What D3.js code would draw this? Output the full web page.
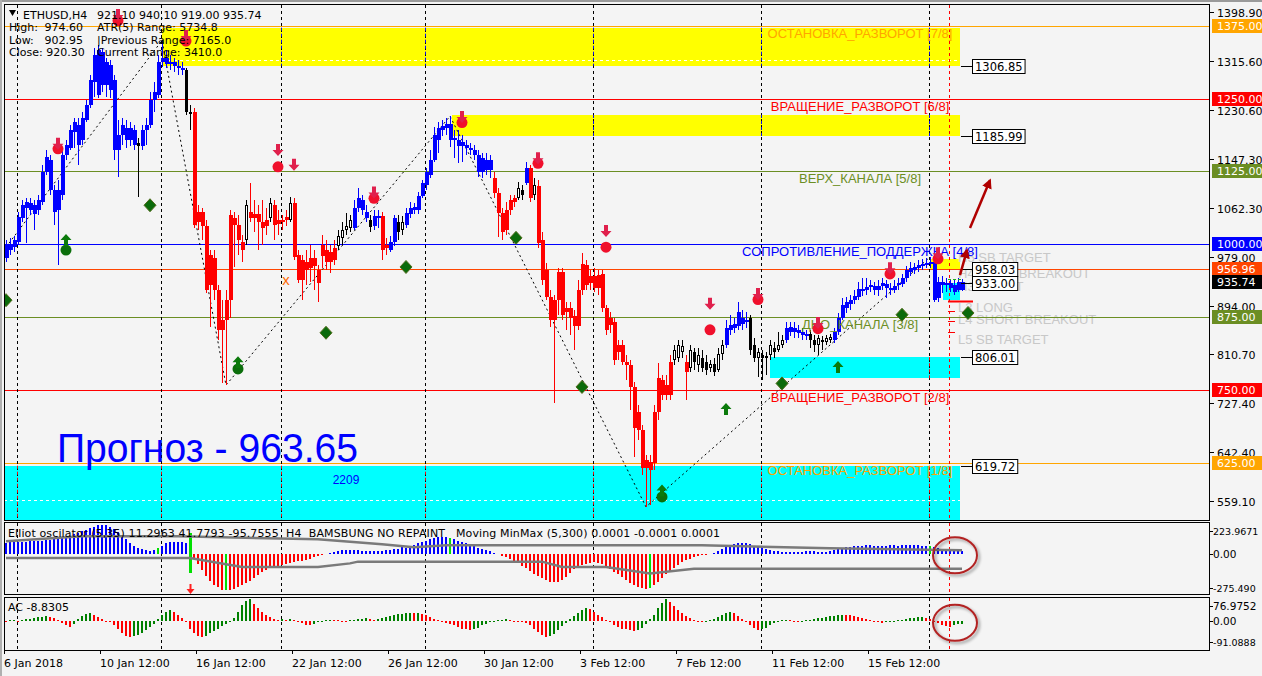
<!DOCTYPE html>
<html><head><meta charset="utf-8">
<script src="https://cdn.jsdelivr.net/npm/d3@7"></script>
<style>
body{margin:0;background:#f4f4f4;overflow:hidden}
svg{display:block}
</style></head>
<body><svg id="c" width="1262" height="676"></svg>
<script>
// ================= DATA =================
const symbol = "ETHUSD,H4";
const lastBarText = "921.10 940.10 919.00 935.74";
const infoLeft = [["High:", "974.60"], ["Low:", "902.95"], ["Close: 920.30", ""]];
const infoRight = ["ATR(5) Range: 5734.8", "|Previous Range: 7165.0", "Current Range: 3410.0"];

// OHLC per H4 bar (price units)
const bars = [
[976,1007,970,999],[990,1011,982,1000],[995,1014,987,1007],[1004,1055,999,1047],[1045,1076,1038,1067],
[1062,1079,1002,1073],[1059,1079,1050,1071],[1052,1076,1025,1067],[1059,1085,1050,1076],[1073,1136,1067,1124],
[1124,1162,1119,1150],[1145,1153,1085,1093],[1093,1102,1033,1055],[1059,1110,964,1093],[1085,1162,1076,1153],
[1153,1179,1145,1170],[1165,1205,1162,1196],[1193,1217,1165,1210],[1205,1217,1136,1170],[1179,1227,1170,1217],
[1213,1248,1210,1239],[1239,1291,1234,1282],[1279,1337,1253,1325],[1256,1342,1251,1334],[1330,1337,1262,1274],
[1274,1320,1253,1313],[1308,1316,1251,1265],[1282,1291,1145,1162],[1162,1213,1116,1188],[1188,1217,1170,1205],
[1200,1213,1165,1179],[1179,1210,1169,1200],[1196,1205,1162,1170],[1174,1183,1081,1169],[1169,1205,1162,1196],
[1196,1217,1170,1205],[1205,1262,1200,1248],[1248,1279,1227,1262],[1256,1325,1251,1313],[1313,1350,1304,1320],
[1320,1334,1303,1310],[1310,1325,1299,1313],[1313,1320,1296,1306],[1306,1316,1291,1303],[1303,1313,1291,1299],
[1299,1303,1222,1227],[1227,1239,1196,1225],[1227,1234,1028,1033],[1038,1067,1025,1055],[1055,1062,1007,1031],
[1031,1042,916,921],[930,990,858,982],[976,990,904,921],[921,930,836,853],[853,904,762,870],
[870,921,758,904],[904,1059,873,1050],[1045,1055,961,1033],[1033,1050,982,1007],[1004,1016,970,990],
[1007,1076,999,1067],[1055,1105,1038,1045],[1045,1076,1021,1052],[1052,1067,990,1038],[1038,1076,999,1028],
[1031,1062,1016,1042],[1045,1079,1038,1071],[1067,1076,1007,1033],[1035,1059,1016,1042],[1042,1050,1025,1038],
[1042,1059,1031,1047],[1042,1081,1038,1071],[1071,1079,973,978],[982,990,933,939],[939,982,904,973],
[970,990,930,956],[959,999,935,976],[976,990,921,963],[956,964,901,933],[980,1016,959,999],
[990,1007,956,970],[970,999,951,987],[973,1007,964,994],[997,1025,990,1014],[1011,1038,999,1025],
[1025,1054,1016,1031],[1028,1050,1021,1042],[1028,1076,1025,1062],[1062,1097,1055,1079],[1076,1085,1050,1059],
[1055,1067,1038,1045],[1042,1050,1021,1030],[1031,1059,1025,1049],[1045,1059,1028,1049],[1049,1055,973,990],
[994,1011,982,999],[990,1014,987,1004],[1004,1050,997,1045],[1038,1050,1007,1021],[1025,1049,1016,1038],
[1033,1062,1028,1054],[1052,1073,1045,1062],[1059,1071,1052,1064],[1059,1090,1052,1083],[1083,1110,1079,1105],
[1102,1131,1093,1124],[1119,1162,1114,1145],[1145,1201,1141,1188],[1179,1210,1157,1200],[1196,1213,1186,1203],
[1200,1217,1188,1207],[1207,1220,1167,1179],[1183,1196,1148,1179],[1179,1196,1140,1169],[1169,1188,1141,1176],
[1170,1179,1153,1165],[1165,1174,1153,1162],[1162,1170,1145,1153],[1153,1162,1116,1124],[1124,1157,1114,1148],
[1145,1157,1119,1128],[1128,1153,1114,1145],[1114,1124,1079,1088],[1088,1097,1013,1054],[1054,1062,1007,1021],
[1025,1073,1016,1059],[1059,1085,1050,1076],[1073,1085,1064,1079],[1079,1107,1076,1097],[1093,1102,1076,1085],
[1105,1141,1102,1131],[1131,1136,1073,1079],[1085,1114,1076,1102],[1100,1110,994,1002],[1007,1021,930,939],
[956,968,904,909],[909,921,858,870],[870,913,727,904],[904,959,879,952],[952,959,870,879],
[884,901,853,891],[891,901,844,873],[877,887,818,860],[860,939,853,921],[921,985,913,966],
[964,973,921,930],[933,956,921,945],[945,959,918,925],[925,956,913,947],[949,956,884,891],
[891,896,844,853],[861,884,848,873],[867,873,793,801],[827,836,801,815],[827,836,793,798],
[798,810,767,793],[793,801,715,755],[755,763,635,684],[712,724,664,681],[681,690,604,616],
[616,638,549,630],[626,638,552,612],[624,724,612,712],[712,796,698,770],[767,775,733,741],
[741,775,733,758],[741,810,733,798],[801,827,793,818],[805,836,798,827],[815,836,805,825],
[798,810,733,781],[788,827,781,818],[815,822,784,798],[793,822,781,810],[805,818,781,788],
[798,810,775,784],[788,801,781,794],[794,805,774,781],[784,822,781,812],[812,836,801,827],
[827,870,822,856],[853,879,844,861],[856,873,848,863],[860,901,853,884],[873,887,853,863],
[867,884,856,870],[873,879,810,818],[827,839,798,805],[805,822,772,815],[810,818,767,805],
[805,815,775,808],[810,836,801,827],[822,832,805,815],[818,849,815,827],[827,844,822,836],
[836,867,830,856],[849,867,842,858],[856,867,839,849],[853,861,839,848],[849,856,836,844],
[844,853,836,846],[846,853,822,836],[836,844,815,827],[827,844,810,839],[836,842,818,832],
[832,844,827,839],[836,846,830,841],[836,856,830,849],[849,882,844,873],[873,908,870,896],
[891,909,882,901],[897,913,887,904],[904,921,897,911],[909,935,904,923],[921,942,911,923],
[921,942,913,927],[927,939,918,930],[928,935,913,921],[921,939,911,928],[928,942,921,933],
[932,939,908,925],[925,933,913,921],[921,939,916,928],[930,942,921,933],[932,949,927,942],
[942,963,935,956],[952,970,945,959],[956,968,949,961],[959,973,952,964],[963,975,956,966],
[964,976,959,968],[966,978,959,970],[970,976,901,904],[908,944,901,935],[935,945,916,930],
[930,942,918,933],[933,940,918,925],[930,939,913,918],[921,942,918,935],[921.1,940.1,919.0,935.74]
];
// trend state of the colouring indicator: b = up (blue), r = down (red), n = neutral
const trendRuns = [["b",33],["n",1],["b",11],["n",2],["r",13],["n",1],["r",5],["n",1],["r",4],["n",1],["r",11],["n",4],["b",4],["n",1],["b",2],["r",2],["b",2],["n",2],["b",22],["r",6],["n",2],["b",1],["r",1],["n",1],["r",34],["n",3],["r",1],["n",9],["b",6],["n",9],["b",6],["n",6],["b",33]];

const timeLabels = ["6 Jan 2018","10 Jan 12:00","16 Jan 12:00","22 Jan 12:00","26 Jan 12:00","30 Jan 12:00","3 Feb 12:00","7 Feb 12:00","11 Feb 12:00","15 Feb 12:00"];
const timeLabelBars = [0,24,48,72,96,120,144,168,192,216];
const weekSeparatorBars = [3,39,69,105,147,189,231];
const currentBar = 236;

const priceTicks = [1398.90,1315.60,1230.60,1147.30,1062.30,979.00,894.00,810.70,727.40,642.40,559.10];

const murreyLevels = [1375,1250,1125,1000,875,750,625];
const murreyNames = ["ОСТАНОВКА_РАЗВОРОТ [7/8]","ВРАЩЕНИЕ_РАЗВОРОТ [6/8]","ВЕРХ_КАНАЛА [5/8]","СОПРОТИВЛЕНИЕ_ПОДДЕРЖКА [4/8]","ДНО_КАНАЛА [3/8]","ВРАЩЕНИЕ_РАЗВОРОТ [2/8]","ОСТАНОВКА_РАЗВОРОТ [1/8]"];
const extraLevel = 956.96;
const lastPrice = 935.74;

// zones: [startBar, endBar, low, high, kind]
const zones = [
  [39, 238.5, 1306.85, 1372, "y"],
  [111.5, 238.5, 1185.99, 1222, "y"],
  [231, 238.5, 958.03, 975, "y"],
  [234.25, 238.5, 905, 933, "c"],
  [191, 238.5, 770, 806.01, "c"],
  [-0.5, 238.5, 500, 619.72, "c"]
];
const zoneLabels = [1306.85, 1185.99, 958.03, 933.00, 806.01, 619.72];
const zoneMidLines = [[39, 1316], [-0.5, 561]];

const pivotNames = ["H5 SB TARGET","H4 LONG BREAKOUT","H3 SHORT","L3 LONG","L4 SHORT BREAKOUT","L5 SB TARGET"];
const pivotNamePrices = [978, 950, 928, 893, 871, 838];
const pivotSegments = [[940,"g"],[903,"R"],[885,"r"],[869,"r"],[850,"r"]];

// zigzag [bar, price]
const zigzag = [[0,995],[39,1350],[55,758],[111,1220],[160,549],[231,978]];

// signals [bar, price]
const sellArrows = [[28,1392],[45,1356],[13,1171],[68,1160],[72,1135],[92,1087],[114,1217],[133,1146],[150,1021],[176,896],[188,913],[203,863],[221,957],[233,983]];
const sellDots = [[28,1384],[45,1349],[13,1164],[68,1133],[92,1079],[114,1209],[133,1139],[150,995],[176,853],[188,905],[203,855],[221,949],[233,975]];
const buyArrows = [[15,1009],[58,799],[164,579],[180,719],[208,791]];
const buyDots = [[15,990],[58,786],[164,566]];
const buyDiamonds = [[0,904],[36,1067],[80,848],[100,961],[127.5,1011],[144,755],[194,761],[224,879],[240.5,882]];
const crossMark = [70,939];
const bigArrows = [[238.5,947,240.25,990],[241,1028,246,1110]];
const forecastText = "Прогноз - 963.65";
const zoneCount = "2209";
const zoneCountPos = [85, 595];

// Elliot oscillator histogram
const elliot = [80,82,84,85,86,88,90,92,93,95,97,100,105,110,
115,120,130,140,150,160,170,180,190,200,205,200,190,175,155,130,105,80,
60,45,35,28,25,30,45,60,75,82,85,85,83,80,
-132,
-30,-70,-110,-150,-185,-210,-230,-245,-250,-245,-238,-228,-215,-200,-185,-165,-145,-125,-108,-95,-85,-78,-72,-66,-60,-55,-50,-45,-38,-30,-22,-15,-8,
5,10,15,22,28,30,32,30,28,25,22,20,20,22,25,28,30,35,40,48,45,55,65,75,85,95,105,112,118,120,118,115,105,95,85,75,65,55,45,36,28,20,12,5,
-10,-20,-32,-45,-60,-78,-95,-115,-135,-150,-165,-180,-190,-195,-190,-175,-155,-130,-105,-90,-75,-65,-58,-55,-58,-70,-90,-105,-120,-140,-160,-180,-200,-215,-228,-235,-240,-235,-215,-190,-165,-140,-115,-92,-72,-55,-42,-30,-20,-12,-6,-2,
5,12,22,35,48,60,70,76,78,76,70,60,50,42,35,28,24,20,18,16,15,15,16,18,20,22,20,18,17,18,22,28,35,42,48,52,56,58,60,62,62,60,58,58,60,62,62,60,62,65,66,64,62,60,58,55,50,45,40,36,32,28,25,22];
const elliotSignals = [38,55,111,161,231];
const elliotSpike = [46, 146, -132];
const minMaxUpper = [[0,90],[19,125],[43,125],[78,104],[94,69],[102,49],[110,62],[174,62],[206,42],[239,28]];
const minMaxLower = [[0,-26],[46,-26],[59,-88],[78,-88],[86,-63],[88,-51],[134,-51],[139,-88],[150,-88],[161,-134],[172,-100],[239,-100]];
const elliotTitle = "Elliot oscilator (5,35) 11.2963 41.7793 -95.7555  H4  BAMSBUNG NO REPAINT   Moving MinMax (5,300) 0.0001 -0.0001 0.0001";
const elliotScale = ["223.9671","0.00","-275.490"];

// Accelerator oscillator
const ac = [-3,2,3,-2,3,5,7,9,11,13,14,12,8,4,-8,-15,-19,-10,5,15,22,26,20,12,6,0,-5,
-15,-28,-40,-50,-53,-50,-45,-38,-30,-20,-10,5,18,30,36,30,20,8,-5,
-25,-40,-50,-52,-48,-40,-32,-25,-18,-10,-3,10,30,50,65,70,55,42,30,20,12,6,
4,6,3,5,2,-3,-8,-12,-14,-10,-5,-2,2,4,3,2,-2,-3,2,3,5,
6,8,6,4,6,9,12,15,18,21,23,25,26,24,26,22,18,12,6,
2,-3,-6,-10,-15,-20,-25,-28,-30,-27,-22,-15,-10,-5,-2,2,3,5,3,1,-2,-4,-8,
-15,-25,-35,-45,-52,-50,-42,-30,-18,-6,5,15,25,35,42,38,30,20,12,4,
-5,-12,-20,-25,-28,-30,-32,-30,-22,-10,5,20,40,58,69,60,48,36,25,15,8,
3,-2,-4,-2,3,6,12,20,26,29,24,15,6,-5,-15,-24,-30,-28,-22,-15,-8,-3,
2,4,3,-2,-3,-2,2,4,6,8,10,12,14,16,18,20,20,19,15,12,10,
5,2,-2,-4,-6,-5,-3,-1,2,4,6,8,10,12,13,10,6,0,-8,-14,-18,-20,-14,-10,-8.83];
const acTitle = "AC -8.8305";
const acScale = ["76.9752","0.00","-91.0888"];

// ================= DRAWING =================
const TF = 'Tahoma,"DejaVu Sans",sans-serif';
const AF = 'Arial,"Liberation Sans",sans-serif';
const svg = d3.select("#c");
const defs = svg.append("defs");
defs.append("clipPath").attr("id","mainClip").append("rect").attr("x",5).attr("y",5).attr("width",1205).attr("height",515);
defs.append("clipPath").attr("id","o1Clip").append("rect").attr("x",5).attr("y",523).attr("width",1205).attr("height",71);
defs.append("clipPath").attr("id","o2Clip").append("rect").attr("x",5).attr("y",598).attr("width",1205).attr("height",52);
const f = defs.append("filter").attr("id","shadow").attr("x","-30%").attr("y","-30%").attr("width","160%").attr("height","160%");
f.append("feGaussianBlur").attr("in","SourceAlpha").attr("stdDeviation",1.5).attr("result","b");
f.append("feOffset").attr("in","b").attr("dx",2).attr("dy",2).attr("result","o");
f.append("feComponentTransfer").attr("in","o").attr("result","s").append("feFuncA").attr("type","linear").attr("slope",0.4);
const fm = f.append("feMerge"); fm.append("feMergeNode").attr("in","s"); fm.append("feMergeNode").attr("in","SourceGraphic");

const trend = trendRuns.flatMap(([t,n]) => Array(n).fill(t));

const x = d3.scaleLinear().domain([0, 239]).range([6, 962]);
const y = d3.scaleLinear().domain([559.1, 1398.9]).range([501, 12]);
const yE = d3.scaleLinear().domain([-275.49, 223.9671]).range([594, 522]);
const yA = d3.scaleLinear().domain([-91.0888, 76.9752]).range([649, 597]);

svg.append("rect").attr("width",1262).attr("height",676).attr("fill","#f4f4f4");
svg.append("rect").attr("x",0).attr("y",0).attr("width",1262).attr("height",2).attr("fill","#9a9a9a");
svg.append("rect").attr("x",0).attr("y",0).attr("width",2).attr("height",676).attr("fill","#b0b0b0");

const main = svg.append("g").attr("clip-path","url(#mainClip)");

// zones
const zoneFill = {y:"#FFFF00", c:"#00FFFF"};
const zoneXor = {y:"#0b0bf4", c:"#f40b0b"};
zones.forEach(([a,b,lo,hi,k]) => {
  main.append("rect").attr("x",x(a)).attr("y",y(hi)).attr("width",x(b)-x(a)).attr("height",y(lo)-y(hi))
    .attr("fill",zoneFill[k]).attr("shape-rendering","crispEdges");
});
zoneMidLines.forEach(([a,p]) => {
  main.append("line").attr("x1",x(a)).attr("x2",x(238.5)).attr("y1",Math.round(y(p))+0.5).attr("y2",Math.round(y(p))+0.5)
    .attr("stroke","#ffffff").attr("stroke-dasharray","3,3");
});

// pivot names (light grey)
pivotNames.forEach((t,i) => {
  main.append("text").attr("x",958).attr("y",y(pivotNamePrices[i])+5).text(t)
    .attr("font-family",AF).attr("font-size",13).attr("fill","#c8c8c8");
});

// level lines
const levelColors = ["#FFA500","#FF0000","#6B8E23","#0000FF","#6B8E23","#FF0000","#FFA500"];
murreyLevels.forEach((lv,i) => {
  const yy = Math.round(y(lv)) + 0.5;
  main.append("line").attr("x1",4).attr("x2",1210).attr("y1",yy).attr("y2",yy).attr("stroke",levelColors[i]);
});
{ const yy = Math.round(y(extraLevel)) + 0.5;
  main.append("line").attr("x1",4).attr("x2",1210).attr("y1",yy).attr("y2",yy).attr("stroke","#FF4500"); }

// separators
function separators(g, y0, y1, withZones) {
  weekSeparatorBars.forEach(b => {
    const sx = Math.round(x(b)) - 0.5;
    g.append("line").attr("x1",sx).attr("x2",sx).attr("y1",y0).attr("y2",y1)
      .attr("stroke","#000").attr("stroke-dasharray","3,3");
    if (withZones) zones.forEach(([a,bb,lo,hi,k]) => {
      if (x(a) <= sx && sx <= x(bb)) {
        g.append("line").attr("x1",sx).attr("x2",sx).attr("y1",y(hi)).attr("y2",y(lo))
          .attr("stroke",zoneXor[k]).attr("stroke-dasharray","3,3");
      }
    });
  });
  const cx = Math.round(x(currentBar)) - 0.5;
  g.append("line").attr("x1",cx).attr("x2",cx).attr("y1",y0).attr("y2",y1)
    .attr("stroke","#ff0000").attr("stroke-dasharray","3,3");
}
separators(main, 5, 520, true);

// zigzag
main.append("path").attr("d", d3.line().x(d=>x(d[0])).y(d=>y(d[1]))(zigzag))
  .attr("fill","none").attr("stroke","#000").attr("stroke-dasharray","2,3");

// candles
const cg = main.append("g").attr("shape-rendering","crispEdges");
bars.forEach((b,i) => {
  const [o,h,l,c] = b, t = trend[i], cx = Math.round(x(i));
  let col = t === "b" ? "#0000FF" : t === "r" ? "#FF0000" : "#000000";
  cg.append("line").attr("x1",cx+0.5).attr("x2",cx+0.5).attr("y1",y(h)).attr("y2",y(l)).attr("stroke",col);
  const top = Math.round(y(Math.max(o,c))), bot = Math.round(y(Math.min(o,c)));
  if (t === "n") {
    cg.append("rect").attr("x",cx-0.5).attr("y",top+0.5).attr("width",2).attr("height",Math.max(1,bot-top-1))
      .attr("fill", c >= o ? "#ffffff" : "#000000").attr("stroke","#000");
  } else {
    cg.append("rect").attr("x",cx-1).attr("y",top).attr("width",4).attr("height",Math.max(2,bot-top)).attr("fill",col);
  }
});

// pivot segments
pivotSegments.forEach(([p,k]) => {
  const yy = Math.round(y(p)) + 0.5;
  if (k === "g") main.append("line").attr("x1",948).attr("x2",962).attr("y1",yy).attr("y2",yy).attr("stroke","#22aa22").attr("stroke-dasharray","3,2");
  else if (k === "R") main.append("line").attr("x1",948).attr("x2",973).attr("y1",yy).attr("y2",yy).attr("stroke","#ff0000").attr("stroke-width",2);
  else main.append("line").attr("x1",948).attr("x2",955).attr("y1",yy).attr("y2",yy).attr("stroke","#ff0000");
});

// level texts
murreyLevels.forEach((lv,i) => {
  main.append("text").attr("x",860).attr("y",y(lv)+12).attr("text-anchor","middle").text(murreyNames[i])
    .attr("font-family",AF).attr("font-size",13).attr("fill",levelColors[i]);
});

// forecast text
main.append("text").attr("x",57).attr("y",462).text(forecastText)
  .attr("font-family",AF).attr("font-size",40).attr("fill","#0000FF")
  .attr("textLength",301).attr("lengthAdjust","spacingAndGlyphs");
main.append("text").attr("x",x(zoneCountPos[0])).attr("y",y(zoneCountPos[1])+4).attr("text-anchor","middle").text(zoneCount)
  .attr("font-family",AF).attr("font-size",12).attr("fill","#0000FF");

// header
const hdr = svg.append("g").attr("font-family",TF).attr("font-size",11).attr("fill","#000");
hdr.append("path").attr("d","M9,10 L16,10 L12.5,16 Z").attr("fill","#000");
hdr.append("text").attr("x",23).attr("y",19).text(symbol);
hdr.append("text").attr("x",97).attr("y",19).text(lastBarText);
infoLeft.forEach(([a,b],i) => {
  hdr.append("text").attr("x",9).attr("y",31+i*12.5).text(a);
  if (b) hdr.append("text").attr("x",83).attr("y",31+i*12.5).attr("text-anchor","end").text(b);
  hdr.append("text").attr("x",97).attr("y",31+i*12.5).text(infoRight[i]);
});

// markers
const mk = main.append("g");
const downArrow = "M-2,-7 L2,-7 L2,-1 L5.5,-1 L0,5 L-5.5,-1 L-2,-1 Z";
const upArrow = "M-2,7 L2,7 L2,1 L5.5,1 L0,-5 L-5.5,1 L-2,1 Z";
sellDots.forEach(([b,p]) => mk.append("circle").attr("cx",x(b)).attr("cy",y(p)).attr("r",5.5).attr("fill","#f0102c"));
sellArrows.forEach(([b,p]) => mk.append("path").attr("d",downArrow).attr("transform",`translate(${x(b)},${y(p)})`).attr("fill","#e0204c"));
buyDots.forEach(([b,p]) => mk.append("circle").attr("cx",x(b)).attr("cy",y(p)).attr("r",5.5).attr("fill","#0b6e0b"));
buyArrows.forEach(([b,p]) => mk.append("path").attr("d",upArrow).attr("transform",`translate(${x(b)},${y(p)})`).attr("fill","#0b7a0b"));
buyDiamonds.forEach(([b,p]) => mk.append("path").attr("d","M0,-6.5 L6,0 L0,6.5 L-6,0 Z").attr("transform",`translate(${x(b)},${y(p)})`)
  .attr("fill","#0b6b0b").attr("stroke","#4f6a1a").attr("stroke-width",1));
mk.append("text").attr("x",x(crossMark[0])).attr("y",y(crossMark[1])+5).attr("text-anchor","middle").text("x")
  .attr("font-family",AF).attr("font-size",15).attr("fill","#ff6a00");

// zone labels
zoneLabels.forEach(v => {
  const yy = Math.round(y(v));
  main.append("line").attr("x1",961).attr("x2",972).attr("y1",yy+0.5).attr("y2",yy+0.5).attr("stroke","#000");
  const r = main.append("rect").attr("x",972.5).attr("y",yy-6.5).attr("height",14).attr("width",45)
    .attr("fill","#fff").attr("stroke","#000");
  const t = main.append("text").attr("x",975).attr("y",yy+4.5).text(v.toFixed(2))
    .attr("font-family",TF).attr("font-size",11.5).attr("fill","#000");
  r.attr("width", t.node().getComputedTextLength() + 5);
});

// big arrows
defs.append("marker").attr("id","ah").attr("viewBox","0 0 10 10").attr("refX",8).attr("refY",5)
  .attr("markerWidth",4).attr("markerHeight",4).attr("orient","auto")
  .append("path").attr("d","M0,0 L10,5 L0,10 Z").attr("fill","#b00000");
bigArrows.forEach(([a,p,b,q]) => {
  main.append("line").attr("x1",x(a)).attr("y1",y(p)).attr("x2",x(b)).attr("y2",y(q))
    .attr("stroke","#b00000").attr("stroke-width",2.5).attr("marker-end","url(#ah)");
});

// panel frames
const fr = svg.append("g").attr("fill","none").attr("stroke","#000").attr("shape-rendering","crispEdges");
fr.append("rect").attr("x",4.5).attr("y",4.5).attr("width",1205).attr("height",515.5);
fr.append("rect").attr("x",4.5).attr("y",522.5).attr("width",1205).attr("height",71.5);
fr.append("rect").attr("x",4.5).attr("y",597.5).attr("width",1205).attr("height",52.5);

// price axis
const ax = svg.append("g").attr("font-family",TF).attr("font-size",11);
priceTicks.forEach(v => {
  const yy = Math.round(y(v)) + 0.5;
  ax.append("line").attr("x1",1210).attr("x2",1214).attr("y1",yy).attr("y2",yy).attr("stroke","#000");
  ax.append("text").attr("x",1217).attr("y",yy+4).text(v.toFixed(2)).attr("fill","#000");
});
const boxVals = [1375,1250,1125,1000,extraLevel,lastPrice,875,750,625];
const boxCols = ["#FFA500","#FF0000","#6B8E23","#0000FF","#FF4500","#000000","#6B8E23","#FF0000","#FFA500"];
boxVals.forEach((v,i) => {
  const yy = Math.round(y(v));
  ax.append("rect").attr("x",1212).attr("y",yy-7).attr("width",52).attr("height",14).attr("fill",boxCols[i]);
  ax.append("text").attr("x",1217).attr("y",yy+4).text(v.toFixed(2)).attr("fill","#fff");
});

// ---------- Elliot panel ----------
const o1 = svg.append("g").attr("clip-path","url(#o1Clip)");
separators(o1, 523, 594, false);
const hg = o1.append("g").attr("shape-rendering","crispEdges");
elliot.forEach((v,i) => {
  if (i === elliotSpike[0]) return;
  const col = elliotSignals.includes(i) ? "#00e000" : (v >= 0 ? "#0000FF" : "#FF0000");
  const y0 = yE(0), y1 = yE(v);
  hg.append("rect").attr("x",Math.round(x(i))-1).attr("y",Math.min(y0,y1)).attr("width",2).attr("height",Math.abs(y1-y0)).attr("fill",col);
});
hg.append("rect").attr("x",Math.round(x(elliotSpike[0]))-1).attr("y",yE(elliotSpike[1])).attr("width",3)
  .attr("height",yE(elliotSpike[2])-yE(elliotSpike[1])).attr("fill","#00e000");
[minMaxUpper, minMaxLower].forEach(line => {
  o1.append("path").attr("d",d3.line().x(d=>x(d[0])).y(d=>yE(d[1]))(line)).attr("fill","none")
    .attr("stroke","#7a7a7a").attr("stroke-width",2.5);
});
o1.append("text").attr("x",8).attr("y",537).text(elliotTitle).attr("font-family",TF).attr("font-size",11)
  .attr("fill","#000").style("white-space","pre").attr("textLength",712).attr("lengthAdjust","spacing");
// small red arrow under spike
svg.append("path").attr("d","M-1,-5 L1,-5 L1,0 L4,0 L0,5 L-4,0 L-1,0 Z")
  .attr("transform",`translate(${x(elliotSpike[0])+0.5},589)`).attr("fill","#ff2020");

// ---------- AC panel ----------
const o2 = svg.append("g").attr("clip-path","url(#o2Clip)");
separators(o2, 598, 650, false);
const ag = o2.append("g").attr("shape-rendering","crispEdges");
ac.forEach((v,i) => {
  const col = (i > 0 && v > ac[i-1]) ? "#008000" : "#FF0000";
  const y0 = yA(0), y1 = yA(v);
  ag.append("rect").attr("x",Math.round(x(i))-1).attr("y",Math.min(y0,y1)).attr("width",2).attr("height",Math.max(1,Math.abs(y1-y0))).attr("fill",col);
});
o2.append("text").attr("x",8).attr("y",611).text(acTitle).attr("font-family",TF).attr("font-size",11).attr("fill","#000");

// osc scales
const os = svg.append("g").attr("font-family",TF).attr("fill","#000");
[[531,elliotScale[0]],[yE(0),elliotScale[1]],[588,elliotScale[2]],[606,acScale[0]],[yA(0),acScale[1]],[642,acScale[2]]].forEach(([yy,t]) => {
  os.append("line").attr("x1",1210).attr("x2",1213).attr("y1",Math.round(yy)+0.5).attr("y2",Math.round(yy)+0.5).attr("stroke","#000");
  os.append("text").attr("x",1213).attr("y",yy+4).text(t).attr("font-size", t.length > 7 ? 9.5 : 10.5);
});

// circled annotations
[yE(0)+1, yA(0)+2].forEach(cy => {
  svg.append("ellipse").attr("cx",955).attr("cy",cy).attr("rx",22).attr("ry",18)
    .attr("fill","none").attr("stroke","#b22222").attr("stroke-width",2).attr("filter","url(#shadow)");
});

// time axis
const ta = svg.append("g").attr("font-family",TF).attr("font-size",11).attr("fill","#000");
timeLabelBars.forEach((b,i) => {
  const tx = Math.round(x(b)) - 2;
  ta.append("line").attr("x1",tx+0.5).attr("x2",tx+0.5).attr("y1",650).attr("y2",654).attr("stroke","#000");
  ta.append("text").attr("x",tx).attr("y",667).text(timeLabels[i]);
});
</script></body></html>
